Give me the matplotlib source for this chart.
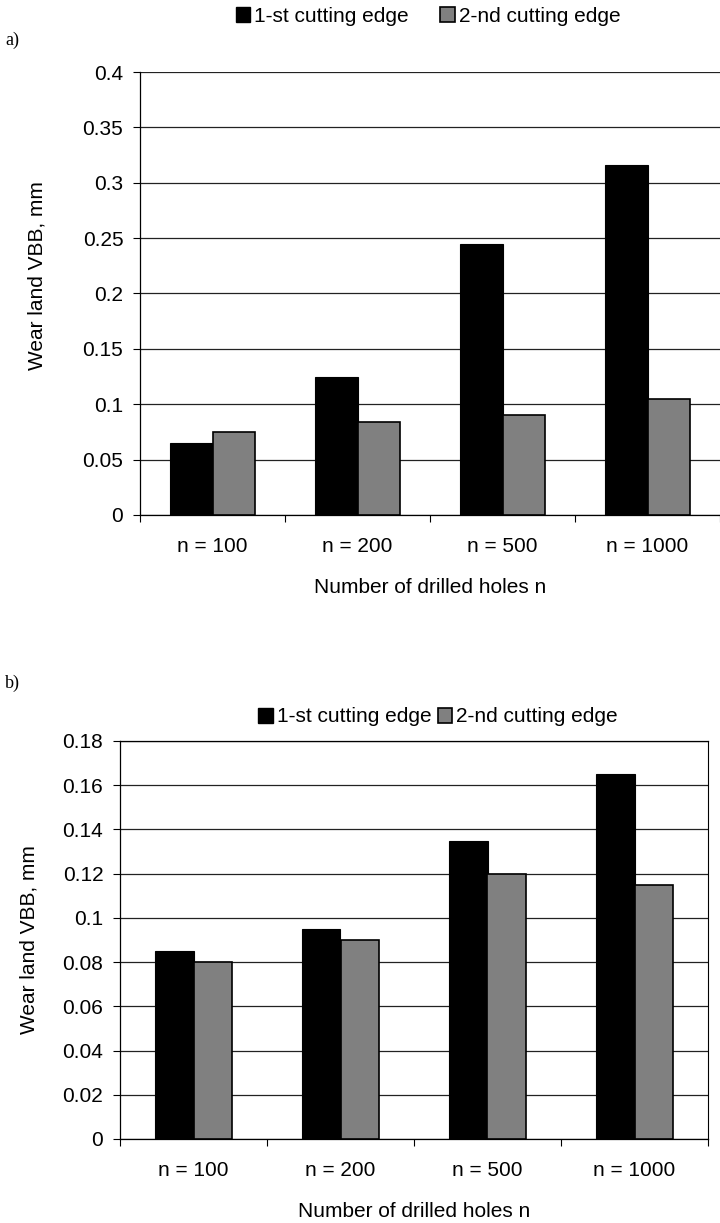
import numpy as np
import matplotlib
matplotlib.use("Agg")
import matplotlib.pyplot as plt
from matplotlib.patches import Patch

plt.rcParams['font.family'] = ['Liberation Sans', 'DejaVu Sans']

categories = ["n = 100", "n = 200", "n = 500", "n = 1000"]
series_names = ["1-st cutting edge", "2-nd cutting edge"]

# panel a)
a_first = [0.065, 0.125, 0.245, 0.316]
a_second = [0.075, 0.084, 0.090, 0.105]
a_yticks = [0, 0.05, 0.1, 0.15, 0.2, 0.25, 0.3, 0.35, 0.4]
a_ylabels = ["0", "0.05", "0.1", "0.15", "0.2", "0.25", "0.3", "0.35", "0.4"]

# panel b)
b_first = [0.085, 0.095, 0.135, 0.165]
b_second = [0.080, 0.090, 0.120, 0.115]
b_yticks = [0, 0.02, 0.04, 0.06, 0.08, 0.1, 0.12, 0.14, 0.16, 0.18]
b_ylabels = ["0", "0.02", "0.04", "0.06", "0.08", "0.1", "0.12", "0.14", "0.16", "0.18"]

colors = ["#000000", "#808080"]
W, H = 720, 1223
FS = 15


def draw(ax, first, second, yticks, ylabels, barw, right_border, ylpad):
    x = np.arange(len(categories))
    ax.bar(x - barw / 2, first, barw, color=colors[0], edgecolor="black", linewidth=0.8, zorder=3)
    ax.bar(x + barw / 2, second, barw, color=colors[1], edgecolor="black", linewidth=1.2, zorder=3)
    ax.set_xlim(-0.5, len(categories) - 0.5)
    ax.set_ylim(yticks[0], yticks[-1])
    ax.set_yticks(yticks)
    ax.set_yticklabels(ylabels, fontsize=FS)
    ax.set_xticks(x)
    ax.set_xticklabels(categories, fontsize=FS)
    ax.set_xticks(np.arange(len(categories) + 1) - 0.5, minor=True)
    ax.tick_params(axis="x", which="major", length=0, pad=16)
    ax.tick_params(axis="x", which="minor", length=5, direction="out", width=0.8)
    ax.tick_params(axis="y", length=5, direction="out", width=0.8, pad=7)
    ax.yaxis.grid(True, color="#222222", linewidth=0.9, zorder=0)
    ax.set_axisbelow(True)
    for s in ["left", "bottom"]:
        ax.spines[s].set_linewidth(0.9)
    ax.spines["top"].set_visible(False)
    ax.spines["right"].set_visible(right_border)
    ax.set_xlabel("Number of drilled holes n", fontsize=FS, labelpad=16)
    ax.set_ylabel("Wear land VBB, mm", fontsize=FS, labelpad=ylpad)


fig = plt.figure(figsize=(W / 100, H / 100), dpi=100)

ax1 = fig.add_axes([140 / W, 1 - 515 / H, 580 / W, (515 - 72) / H])
draw(ax1, a_first, a_second, a_yticks, a_ylabels, 0.29, False, 26)
ax1.yaxis.label.set_y(0.54)

ax2 = fig.add_axes([120 / W, 1 - 1139 / H, 588 / W, (1139 - 741) / H])
draw(ax2, b_first, b_second, b_yticks, b_ylabels, 0.265, True, 17)
ax2.spines["top"].set_visible(True)
ax2.spines["top"].set_linewidth(0.9)

handles = [Patch(facecolor=colors[0], edgecolor="black"),
           Patch(facecolor=colors[1], edgecolor="black", linewidth=1.2)]

fig.legend(handles, series_names, loc="center", bbox_to_anchor=(428 / W, 1 - 16 / H),
           ncol=2, frameon=False, fontsize=FS, handlelength=0.7, handleheight=0.7,
           handletextpad=0.2, columnspacing=1.5)
fig.legend(handles, series_names, loc="center", bbox_to_anchor=(438 / W, 1 - 717 / H),
           ncol=2, frameon=False, fontsize=FS, handlelength=0.7, handleheight=0.7,
           handletextpad=0.2, columnspacing=0.3)

fig.text(5 / W, 1 - 40 / H, "a)", fontsize=13, family="Liberation Serif", va="center")
fig.text(5 / W, 1 - 683 / H, "b)", fontsize=13, family="Liberation Serif", va="center")

fig.savefig("out.png", dpi=100)
